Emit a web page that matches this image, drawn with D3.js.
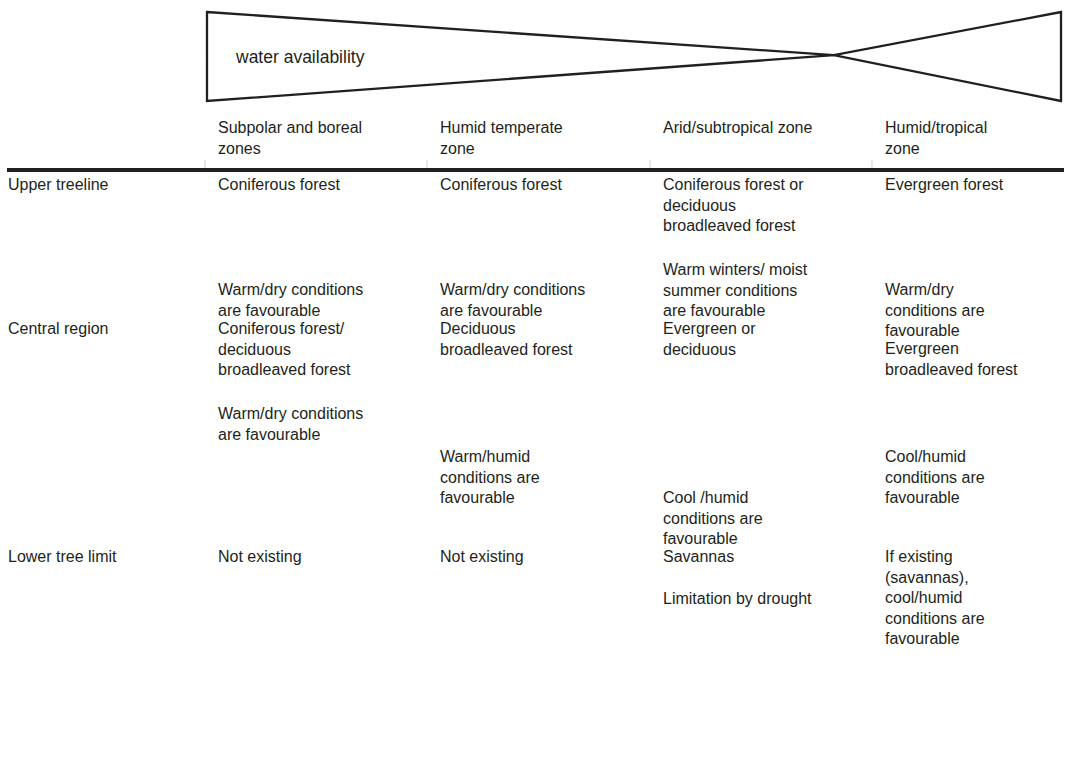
<!DOCTYPE html>
<html><head><meta charset="utf-8">
<script src="https://cdn.jsdelivr.net/npm/d3@7"></script>
<style>
html,body{margin:0;padding:0;background:#fff;}
svg text{font-family:"Liberation Sans",Arial,sans-serif;font-size:16px;fill:#231f20;}
</style></head><body>
<svg id="c" width="1070" height="777"></svg>
<script>
// ---- data ----
const gradientLabel = "water availability";
const zones = [
  ["Subpolar and boreal", "zones"],
  ["Humid temperate", "zone"],
  ["Arid/subtropical zone"],
  ["Humid/tropical", "zone"]
];
const rowLabels = ["Upper treeline", "Central region", "Lower tree limit"];
// cells[row][zone] = list of text blocks (each block = list of lines)
const upperTreeline = [
  [["Coniferous forest"], ["Warm/dry conditions", "are favourable"]],
  [["Coniferous forest"], ["Warm/dry conditions", "are favourable"]],
  [["Coniferous forest or", "deciduous", "broadleaved forest"], ["Warm winters/ moist", "summer conditions", "are favourable"]],
  [["Evergreen forest"], ["Warm/dry", "conditions are", "favourable"]]
];
const centralRegion = [
  [["Coniferous forest/", "deciduous", "broadleaved forest"], ["Warm/dry conditions", "are favourable"]],
  [["Deciduous", "broadleaved forest"], ["Warm/humid", "conditions are", "favourable"]],
  [["Evergreen or", "deciduous"], ["Cool /humid", "conditions are", "favourable"]],
  [["Evergreen", "broadleaved forest"], ["Cool/humid", "conditions are", "favourable"]]
];
const lowerTreeLimit = [
  [["Not existing"]],
  [["Not existing"]],
  [["Savannas"], ["Limitation by drought"]],
  [["If existing", "(savannas),", "cool/humid", "conditions are", "favourable"]]
];
const cells = [upperTreeline, centralRegion, lowerTreeLimit];

// ---- layout ----
const svg = d3.select("#c");
const colX = d3.scaleOrdinal().domain([-1,0,1,2,3]).range([8,218,440,663,885]);
const lineH = 20.5;
// top baselines of text blocks [row][zone][block]
const blockY = [
  [[190,295],[190,295],[190,275],[190,295]],
  [[334,419],[334,462],[334,503],[354,462]],
  [[562],[562],[562,604],[562]]
];
const rowY = [190, 334, 562];

// gradient shape
const g = svg.append("g");
const sx = d3.scaleLinear().domain([0,1]).range([207,1061]);
const sy = d3.scaleLinear().domain([0,1]).range([12,101]);
const cross = 0.734;
const pts = [[0,0],[cross,0.485],[1,0],[1,1],[cross,0.485],[0,1]];
g.append("path")
  .attr("d", d3.line().x(d=>sx(d[0])).y(d=>sy(d[1])).curve(d3.curveLinearClosed)(pts))
  .attr("fill","none").attr("stroke","#231f20").attr("stroke-width",2.3).attr("stroke-linejoin","miter");
g.append("text").attr("x",236).attr("y",63).style("font-size","17.5px").text(gradientLabel);

// header
zones.forEach((z,i)=>{
  const t = svg.append("text").attr("x",colX(i)).attr("y",133);
  z.forEach((l,j)=>t.append("tspan").attr("x",colX(i)).attr("dy", j===0?0:lineH).text(l));
});
// rule
svg.append("line").attr("x1",7).attr("x2",1064).attr("y1",170).attr("y2",170)
  .attr("stroke","#231f20").attr("stroke-width",4);
[205,427,650,872].forEach(x=>{
  svg.append("line").attr("x1",x).attr("x2",x).attr("y1",160).attr("y2",168)
    .attr("stroke","#bbb").attr("stroke-width",0.7);
});

// rows
rowLabels.forEach((r,i)=>{
  svg.append("text").attr("x",colX(-1)).attr("y",rowY[i]).text(r);
  cells[i].forEach((blocks,z)=>{
    blocks.forEach((lines,b)=>{
      const t = svg.append("text").attr("x",colX(z)).attr("y",blockY[i][z][b]);
      lines.forEach((l,j)=>t.append("tspan").attr("x",colX(z)).attr("dy", j===0?0:lineH).text(l));
    });
  });
});
</script></body></html>
